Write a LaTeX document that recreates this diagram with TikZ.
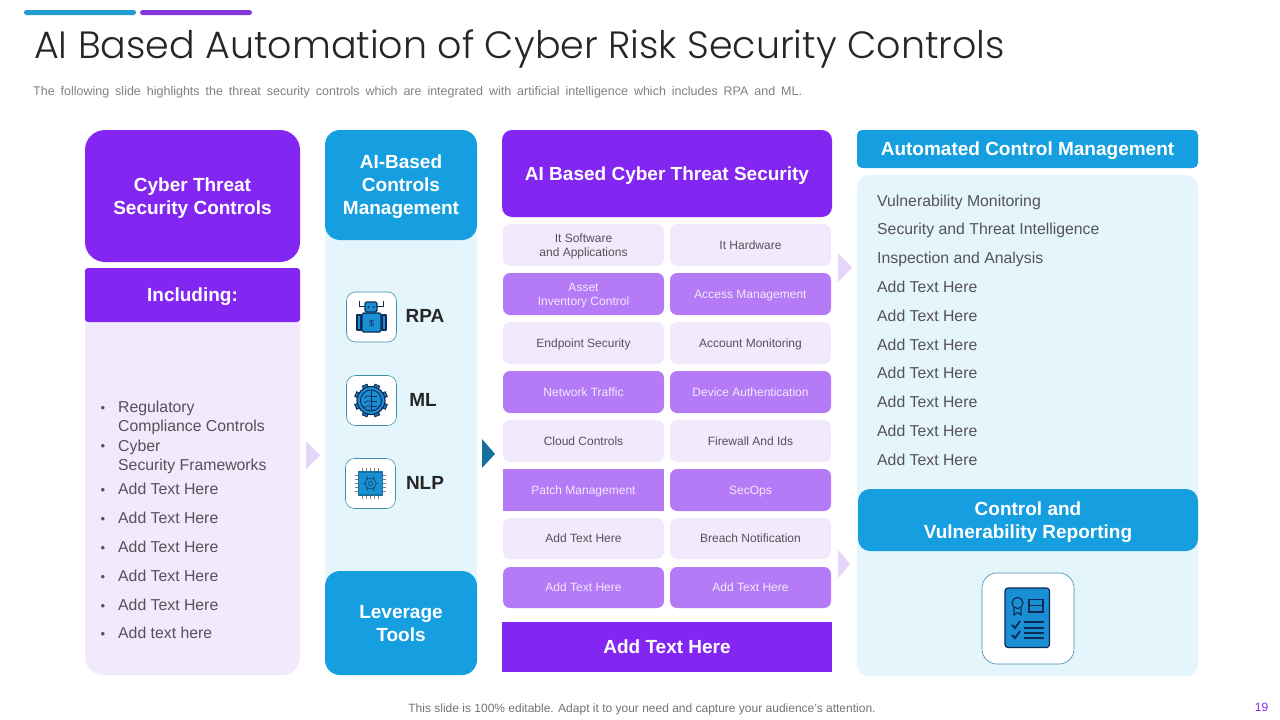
\documentclass[tikz,border=0pt]{standalone}
\usepackage{fontspec}
\setmainfont{Liberation Sans}
\newfontfamily\titlefont{Poppins Light}
\usetikzlibrary{positioning}
\definecolor{deeppurple}{HTML}{8426F2}
\definecolor{midpurple}{HTML}{B57BF7}
\definecolor{palepurple}{HTML}{F2E9FC}
\definecolor{skyblue}{HTML}{169FE0}
\definecolor{paleblue}{HTML}{E5F5FC}
\definecolor{arrowblue}{HTML}{14719E}
\definecolor{arrowlilac}{HTML}{E5D5F8}
\definecolor{inkblue}{HTML}{0D2B57}
\definecolor{iconblue}{HTML}{1B8FD3}
\definecolor{bodygrey}{HTML}{555259}
\definecolor{barblue}{HTML}{209CD0}
\definecolor{barpurple}{HTML}{8436D8}
\tikzset{
  box/.style={inner sep=0pt, outer sep=0pt, align=center, text depth=0pt},
  head/.style={box, text=white, font=\fontsize{19}{23}\selectfont\bfseries},
  cell/.style={box, minimum width=161pt, minimum height=42pt, rounded corners=7pt, font=\fontsize{12}{14}\selectfont},
  lightcell/.style={cell, fill=palepurple, text=bodygrey},
  darkcell/.style={cell, fill=midpurple, text=palepurple},
  item/.style={inner sep=0pt, anchor=west, align=left, text depth=0pt, text=bodygrey, font=\fontsize{15.8}{19}\selectfont},
  iconbox/.style={box, fill=white, draw=arrowblue!80, line width=0.6pt, rounded corners=9pt},
  tag/.style={inner sep=0pt, text=black!85, font=\fontsize{19}{22}\selectfont\bfseries},
  iconline/.style={draw=inkblue, line width=1.2pt, fill=iconblue, line join=round},
}
\begin{document}
\begin{tikzpicture}[x=1pt, y=-1pt]
  \useasboundingbox (0,0) rectangle (1280,720);
  % Top bars
  \fill[barblue, rounded corners=2.5pt] (24,10) rectangle (136,15);
  \fill[barpurple, rounded corners=2.5pt] (140,10) rectangle (252,15);
  % Title
  \node[inner sep=0pt, anchor=west, text=black!85, font=\titlefont\fontsize{38}{44}\selectfont] (title) at (34,49) {AI Based Automation of Cyber Risk Security Controls};
  \node[inner sep=0pt, anchor=west, text=gray, font=\fontsize{12.5}{14}\selectfont] (subtitle) at (33,92) {\spaceskip=5.95pt The following slide highlights the threat security controls which are integrated with artificial intelligence which includes RPA and ML.};

  % Left column
  \node[box, fill=palepurple, minimum width=215pt, minimum height=383pt, rounded corners=18pt] (leftpanel) at (192.5,483.5) {};
  \node[head, fill=deeppurple, minimum width=215pt, minimum height=132pt, rounded corners=20pt] (threat) at (192.5,196) {Cyber Threat\\Security Controls};
  \node[head, fill=deeppurple, minimum width=215pt, minimum height=54pt, rounded corners=3pt] (including) at (192.5,295) {Including:};
  \node[item] (regulatory) at (118,416.5) {Regulatory\\Compliance Controls};
  \node[item] (cyber) at (118,455) {Cyber\\Security Frameworks};
  \foreach \n/\y/\t in {1/489/Add Text Here, 2/518/Add Text Here, 3/547/Add Text Here, 4/576/Add Text Here, 5/605/Add Text Here, 6/633/Add text here}
    \node[item] (leftitem\n) at (118,\y) {\t};
  \foreach \n/\y in {1/409, 2/447, 3/491, 4/520, 5/549, 6/578, 7/607, 8/635}
    \node[item, font=\fontsize{13}{15}\selectfont] (bullet\n) at (100.5,\y) {•};

  % Second column
  \node[box, fill=paleblue, minimum width=152pt, minimum height=545pt, rounded corners=15pt] (toolpanel) at (401,402.5) {};
  \node[head, fill=skyblue, minimum width=152pt, minimum height=110pt, rounded corners=15pt] (controls) at (401,185) {AI-Based\\Controls\\Management};
  \node[head, fill=skyblue, minimum width=152pt, minimum height=104pt, rounded corners=15pt] (leverage) at (401,623) {Leverage\\Tools};
  \node[iconbox, minimum width=50pt, minimum height=50pt] (rpabox) at (371.5,317) {};
  \node[iconbox, minimum width=50pt, minimum height=50pt] (mlbox) at (371.5,400.5) {};
  \node[iconbox, minimum width=50pt, minimum height=50pt] (nlpbox) at (370.5,483.5) {};
  \node[tag] (rpa) at (425,316) {RPA};
  \node[tag] (ml) at (423,400) {ML};
  \node[tag] (nlp) at (425,483) {NLP};
  % Robot icon
  \draw[inkblue, line width=1pt] (359,301) -- (359,306) -- (365,306);
  \draw[inkblue, line width=1pt] (383,301) -- (383,306) -- (377,306);
  \draw[iconline, rounded corners=1.5pt] (365,302) rectangle (377,312);
  \draw[iconline] (357,315) rectangle (361,330);
  \draw[iconline] (382,315) rectangle (386,330);
  \draw[iconline, rounded corners=1.5pt] (362,313) rectangle (381,332);
  \fill[inkblue] (368.5,307) circle (1pt) (373.5,307) circle (1pt);
  \node[inner sep=0pt, text=inkblue, font=\fontsize{9}{9}\selectfont] (dollar) at (371.5,323) {\$};
  % Gear icon
  \foreach \a in {0,45,...,315}
    \draw[inkblue, line width=6pt] (371,400.5) ++(\a+22.5:12) -- ++(\a+22.5:5);
  \foreach \a in {0,45,...,315}
    \draw[iconblue, line width=3.8pt] (371,400.5) ++(\a+22.5:12) -- ++(\a+22.5:3.8);
  \draw[iconline] (371,400.5) circle (14);
  \draw[draw=inkblue, line width=1pt] (371,400.5) circle (10.5);
  \draw[inkblue, line width=0.8pt] (371,391) -- (371,410);
  \foreach \y in {396,401,406} {
    \draw[inkblue, line width=0.7pt] (371,\y) -- (377,\y);
    \draw[inkblue, line width=0.7pt] (371,\y) to[bend right=30] (364,\y+2);
  }
  % Chip icon
  \foreach \s in {-8,-4,0,4,8} {
    \draw[gray, line width=0.8pt] (370.5+\s,468) -- (370.5+\s,499);
    \draw[gray, line width=0.8pt] (355,483.5+\s) -- (386,483.5+\s);
  }
  \draw[iconline, draw=arrowblue] (358.5,472) rectangle (382.5,495);
  \foreach \a in {0,60,...,300}
    \draw[arrowblue!60!inkblue, line width=1.6pt] (370.5,483.5) ++(\a:5) -- ++(\a:2.5);
  \draw[arrowblue!60!inkblue, line width=0.8pt] (370.5,483.5) circle (5.5) circle (2.2);

  % Middle column
  \node[head, fill=deeppurple, minimum width=330pt, minimum height=87pt, rounded corners=10pt] (security) at (667,173.5) {AI Based Cyber Threat Security};
  \node[lightcell] (software) at (583.5,245) {It Software\\and Applications};
  \node[lightcell] (hardware) at (750.5,245) {It Hardware};
  \node[darkcell] (asset) at (583.5,294) {Asset\\Inventory Control};
  \node[darkcell] (access) at (750.5,294) {Access Management};
  \node[lightcell] (endpoint) at (583.5,343) {Endpoint Security};
  \node[lightcell] (account) at (750.5,343) {Account Monitoring};
  \node[darkcell] (network) at (583.5,392) {Network Traffic};
  \node[darkcell] (device) at (750.5,392) {Device Authentication};
  \node[lightcell] (cloud) at (583.5,441) {Cloud Controls};
  \node[lightcell] (firewall) at (750.5,441) {Firewall And Ids};
  \node[darkcell, rounded corners=0pt] (patch) at (583.5,490) {Patch Management};
  \node[darkcell] (secops) at (750.5,490) {SecOps};
  \node[lightcell, minimum height=41pt] (addone) at (583.5,538.5) {Add Text Here};
  \node[lightcell, minimum height=41pt] (breach) at (750.5,538.5) {Breach Notification};
  \node[darkcell, minimum height=41pt] (addtwo) at (583.5,587.5) {Add Text Here};
  \node[darkcell, minimum height=41pt] (addthree) at (750.5,587.5) {Add Text Here};
  \node[head, fill=deeppurple, minimum width=330pt, minimum height=50pt] (footerbar) at (667,647) {Add Text Here};

  % Right column
  \node[box, fill=paleblue, minimum width=341pt, minimum height=501pt, rounded corners=12pt] (rightpanel) at (1027.5,425.5) {};
  \node[head, fill=skyblue, minimum width=341pt, minimum height=38pt, rounded corners=5pt] (automated) at (1027.5,149) {Automated Control Management};
  \foreach \n/\y/\t in {1/201/Vulnerability Monitoring, 2/229/Security and Threat Intelligence, 3/258/Inspection and Analysis, 4/287/Add Text Here, 5/316/Add Text Here, 6/345/Add Text Here, 7/373/Add Text Here, 8/402/Add Text Here, 9/431/Add Text Here, 10/460/Add Text Here}
    \node[item] (rightitem\n) at (877,\y) {\t};
  \node[head, fill=skyblue, minimum width=340pt, minimum height=62pt, rounded corners=12pt] (reporting) at (1028,520) {Control and\\Vulnerability Reporting};
  \node[iconbox, minimum width=92pt, minimum height=91pt, rounded corners=15pt] (docbox) at (1028,618.5) {};
  % Document icon
  \draw[iconline, rounded corners=3pt] (1005,588) rectangle (1049.5,647.5);
  \draw[inkblue, line width=1.1pt] (1014,608) -- (1014,615) -- (1017.5,612.5) -- (1021,615) -- (1021,608);
  \draw[draw=inkblue, line width=1.1pt] (1017.5,603) circle (5.5);
  \draw[inkblue, line width=1.2pt] (1029,599.5) rectangle (1043,605.5) (1029,605.5) rectangle (1043,612);
  \foreach \y in {622,628,633,638}
    \draw[inkblue, line width=1.2pt] (1023.5,\y) -- (1043.5,\y);
  \foreach \y in {625,635}
    \draw[inkblue, line width=1.8pt] (1012,\y) -- (1015,\y+3) -- (1020,\y-4);

  % Side arrows
  \fill[arrowlilac] (306,441) -- (320,455) -- (306,469) -- cycle;
  \fill[arrowblue] (482,439) -- (495,454) -- (482,468) -- cycle;
  \fill[arrowlilac] (838,253) -- (852,267.5) -- (838,282) -- cycle;
  \fill[arrowlilac] (838,550) -- (850,564) -- (838,578) -- cycle;

  % Footer
  \node[inner sep=0pt, text=gray!90!black, font=\fontsize{12}{14}\selectfont] (note) at (642,709) {This slide is 100\% editable. Adapt it to your need and capture your audience's attention.};
  \node[inner sep=0pt, text=deeppurple, font=\fontsize{12}{14}\selectfont] (pagenum) at (1261.5,707) {19};
\end{tikzpicture}
\end{document}
